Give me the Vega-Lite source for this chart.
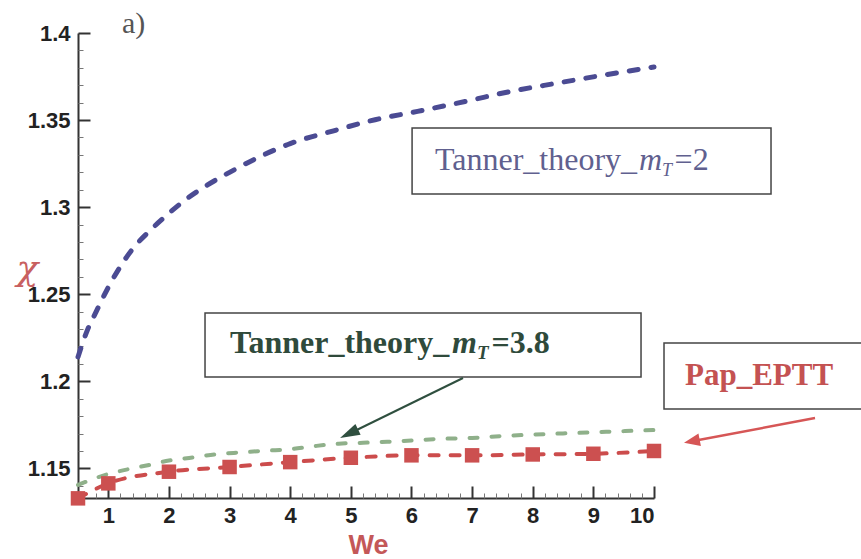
{
  "$schema": "https://vega.github.io/schema/vega-lite/v6.json",
  "width": 576,
  "height": 465,
  "autosize": {"type": "none"},
  "padding": {"left": 78, "top": 33, "right": 207, "bottom": 61},
  "background": "white",
  "config": {"view": {"stroke": null}, "axis": {"grid": false}},
  "resolve": {"axis": {"x": "independent", "y": "independent"}},
  "layer": [
    {
      "data": {"values": [
        {"We": 0.5, "chi": 1.214}, {"We": 0.65, "chi": 1.229}, {"We": 0.8, "chi": 1.240},
        {"We": 1.0, "chi": 1.254}, {"We": 1.2, "chi": 1.266}, {"We": 1.4, "chi": 1.276},
        {"We": 1.7, "chi": 1.287}, {"We": 2.0, "chi": 1.2965}, {"We": 2.3, "chi": 1.305},
        {"We": 2.6, "chi": 1.312}, {"We": 3.0, "chi": 1.320}, {"We": 3.5, "chi": 1.329},
        {"We": 4.0, "chi": 1.3365}, {"We": 4.7, "chi": 1.3437}, {"We": 5.4, "chi": 1.3502},
        {"We": 6.1, "chi": 1.355}, {"We": 6.9, "chi": 1.3608}, {"We": 7.6, "chi": 1.3662},
        {"We": 8.4, "chi": 1.3712}, {"We": 9.2, "chi": 1.376}, {"We": 10, "chi": 1.3805}
      ]},
      "mark": {"type": "line", "color": "#4b4b93", "strokeWidth": 5, "strokeDash": [9, 13], "strokeCap": "round", "interpolate": "monotone", "clip": false},
      "encoding": {
        "x": {"field": "We", "type": "quantitative", "scale": {"domain": [0.5, 10], "nice": false, "zero": false},
          "axis": {"orient": "bottom", "values": [1, 2, 3, 4, 5, 6, 7, 8, 9, 10], "format": "d",
            "tickSize": -12, "tickWidth": 2, "tickColor": "#333", "domainColor": "#333", "domainWidth": 2,
            "labelFont": "Liberation Sans", "labelFontSize": 22, "labelFontWeight": "bold", "labelColor": "#222", "labelPadding": 19,
            "title": "We", "titleFont": "Liberation Sans", "titleFontSize": 27, "titleFontWeight": "bold", "titleColor": "#c45858",
            "titleX": 290, "titleY": 55, "titleAlign": "center", "titleBaseline": "alphabetic"}},
        "y": {"field": "chi", "type": "quantitative", "scale": {"domain": [1.133, 1.4], "nice": false, "zero": false},
          "axis": {"orient": "left", "values": [1.15, 1.2, 1.25, 1.3, 1.35, 1.4], "format": "~g",
            "tickSize": -12, "tickWidth": 2, "tickColor": "#333", "domainColor": "#333", "domainWidth": 2,
            "labelFont": "Liberation Sans", "labelFontSize": 22, "labelFontWeight": "bold", "labelColor": "#222", "labelPadding": 20,
            "title": "χ", "titleFont": "DejaVu Serif", "titleFontSize": 36, "titleFontStyle": "italic", "titleFontWeight": "normal", "titleColor": "#c86060",
            "titleAngle": 0, "titleX": -51, "titleY": 235, "titleAlign": "center", "titleBaseline": "middle"}}
      }
    },
    {
      "data": {"values": [
        {"We": 0.5, "chi": 1.1405}, {"We": 1.0, "chi": 1.1468}, {"We": 1.3, "chi": 1.1493},
        {"We": 1.7, "chi": 1.1522}, {"We": 2.0, "chi": 1.1545}, {"We": 2.4, "chi": 1.1563},
        {"We": 2.8, "chi": 1.1582}, {"We": 3.2, "chi": 1.1592}, {"We": 3.6, "chi": 1.1602},
        {"We": 4.0, "chi": 1.161}, {"We": 4.4, "chi": 1.1628}, {"We": 4.8, "chi": 1.1642},
        {"We": 5.2, "chi": 1.1647}, {"We": 5.6, "chi": 1.1653}, {"We": 6.0, "chi": 1.166},
        {"We": 6.5, "chi": 1.167}, {"We": 7.0, "chi": 1.1675}, {"We": 7.5, "chi": 1.1686},
        {"We": 8.0, "chi": 1.1694}, {"We": 8.5, "chi": 1.1701}, {"We": 9.0, "chi": 1.1707},
        {"We": 9.5, "chi": 1.1714}, {"We": 10, "chi": 1.172}
      ]},
      "mark": {"type": "line", "color": "#8fb08a", "strokeWidth": 4, "strokeDash": [8, 14], "strokeCap": "round", "interpolate": "monotone", "clip": false},
      "encoding": {
        "x": {"field": "We", "type": "quantitative", "scale": {"domain": [0.5, 10], "nice": false, "zero": false},
          "axis": {"orient": "bottom", "values": [0.6, 0.8, 1.2, 1.4, 1.6, 1.8, 2.2, 2.4, 2.6, 2.8, 3.2, 3.4, 3.6, 3.8, 4.2, 4.4, 4.6, 4.8, 5.2, 5.4, 5.6, 5.8, 6.2, 6.4, 6.6, 6.8, 7.2, 7.4, 7.6, 7.8, 8.2, 8.4, 8.6, 8.8, 9.2, 9.4, 9.6, 9.8],
            "tickSize": -5, "tickWidth": 1, "tickColor": "#777", "labels": false, "domain": false, "title": null}},
        "y": {"field": "chi", "type": "quantitative", "scale": {"domain": [1.133, 1.4], "nice": false, "zero": false},
          "axis": {"orient": "left", "values": [1.14, 1.16, 1.17, 1.18, 1.19, 1.21, 1.22, 1.23, 1.24, 1.26, 1.27, 1.28, 1.29, 1.31, 1.32, 1.33, 1.34, 1.36, 1.37, 1.38, 1.39],
            "tickSize": -5, "tickWidth": 1, "tickColor": "#777", "labels": false, "domain": false, "title": null}}
      }
    },
    {
      "data": {"values": [
        {"We": 0.5, "chi": 1.1328}, {"We": 1, "chi": 1.1414}, {"We": 2, "chi": 1.1481},
        {"We": 3, "chi": 1.1508}, {"We": 4, "chi": 1.1536}, {"We": 5, "chi": 1.1561},
        {"We": 6, "chi": 1.1575}, {"We": 7, "chi": 1.1575}, {"We": 8, "chi": 1.158},
        {"We": 9, "chi": 1.1584}, {"We": 10, "chi": 1.16}
      ]},
      "layer": [
        {
          "mark": {"type": "line", "color": "#cc4c4c", "strokeWidth": 4, "strokeDash": [9, 12], "strokeCap": "round", "interpolate": "monotone", "clip": false},
          "encoding": {
            "x": {"field": "We", "type": "quantitative", "scale": {"domain": [0.5, 10], "nice": false, "zero": false}, "axis": null},
            "y": {"field": "chi", "type": "quantitative", "scale": {"domain": [1.133, 1.4], "nice": false, "zero": false}, "axis": null}
          }
        },
        {
          "mark": {"type": "point", "shape": "square", "filled": true, "size": 210, "color": "#cc5050", "opacity": 1, "clip": false},
          "encoding": {
            "x": {"field": "We", "type": "quantitative", "scale": {"domain": [0.5, 10], "nice": false, "zero": false}, "axis": null},
            "y": {"field": "chi", "type": "quantitative", "scale": {"domain": [1.133, 1.4], "nice": false, "zero": false}, "axis": null}
          }
        }
      ]
    },
    {
      "data": {"values": [
        {"x1": 6.01, "x2": 11.93, "y1": 1.3455, "y2": 1.3076},
        {"x1": 2.595, "x2": 9.786, "y1": 1.2392, "y2": 1.2025},
        {"x1": 10.165, "x2": 13.6, "y1": 1.222, "y2": 1.1841}
      ]},
      "mark": {"type": "rect", "fill": "white", "stroke": "#444", "strokeWidth": 1.5, "clip": false},
      "encoding": {
        "x": {"field": "x1", "type": "quantitative", "scale": {"domain": [0.5, 10], "nice": false, "zero": false}, "axis": null},
        "x2": {"field": "x2"},
        "y": {"field": "y1", "type": "quantitative", "scale": {"domain": [1.133, 1.4], "nice": false, "zero": false}, "axis": null},
        "y2": {"field": "y2"}
      }
    },
    {
      "data": {"values": [{"x1": 6.85, "y1": 1.2019, "x2": 4.97, "y2": 1.1699}]},
      "mark": {"type": "rule", "color": "#2f4f3f", "strokeWidth": 2, "clip": false},
      "encoding": {
        "x": {"field": "x1", "type": "quantitative", "scale": {"domain": [0.5, 10], "nice": false, "zero": false}, "axis": null},
        "x2": {"field": "x2"},
        "y": {"field": "y1", "type": "quantitative", "scale": {"domain": [1.133, 1.4], "nice": false, "zero": false}, "axis": null},
        "y2": {"field": "y2"}
      }
    },
    {
      "data": {"values": [{"x1": 12.656, "y1": 1.1789, "x2": 10.624, "y2": 1.1656}]},
      "mark": {"type": "rule", "color": "#d65656", "strokeWidth": 2.5, "clip": false},
      "encoding": {
        "x": {"field": "x1", "type": "quantitative", "scale": {"domain": [0.5, 10], "nice": false, "zero": false}, "axis": null},
        "x2": {"field": "x2"},
        "y": {"field": "y1", "type": "quantitative", "scale": {"domain": [1.133, 1.4], "nice": false, "zero": false}, "axis": null},
        "y2": {"field": "y2"}
      }
    },
    {
      "data": {"values": [{"x": 4.97, "y": 1.1699}]},
      "mark": {"type": "point", "shape": "M0,-1L-0.6,1L0.6,1Z", "filled": true, "size": 400, "angle": 244, "color": "#2f4f3f", "opacity": 1, "clip": false},
      "encoding": {
        "x": {"field": "x", "type": "quantitative", "scale": {"domain": [0.5, 10], "nice": false, "zero": false}, "axis": null},
        "y": {"field": "y", "type": "quantitative", "scale": {"domain": [1.133, 1.4], "nice": false, "zero": false}, "axis": null}
      }
    },
    {
      "data": {"values": [{"x": 10.624, "y": 1.1656}]},
      "mark": {"type": "point", "shape": "M0,-1L-0.8,1L0.8,1Z", "filled": true, "size": 256, "angle": 259, "color": "#d65656", "opacity": 1, "clip": false},
      "encoding": {
        "x": {"field": "x", "type": "quantitative", "scale": {"domain": [0.5, 10], "nice": false, "zero": false}, "axis": null},
        "y": {"field": "y", "type": "quantitative", "scale": {"domain": [1.133, 1.4], "nice": false, "zero": false}, "axis": null}
      }
    },
    {
      "data": {"values": [{"x": 6.388, "y": 1.3213, "t": "Tanner_theory_"}, {"x": 10.34, "y": 1.3213, "t": "=2"}]},
      "mark": {"type": "text", "font": "Liberation Serif", "fontSize": 32, "color": "#60608f", "align": "left", "baseline": "alphabetic", "clip": false},
      "encoding": {
        "x": {"field": "x", "type": "quantitative", "scale": {"domain": [0.5, 10], "nice": false, "zero": false}, "axis": null},
        "y": {"field": "y", "type": "quantitative", "scale": {"domain": [1.133, 1.4], "nice": false, "zero": false}, "axis": null},
        "text": {"field": "t"}
      }
    },
    {
      "data": {"values": [{"x": 9.754, "y": 1.3213, "t": "m"}]},
      "mark": {"type": "text", "font": "Liberation Serif", "fontSize": 32, "fontStyle": "italic", "color": "#60608f", "align": "left", "baseline": "alphabetic", "clip": false},
      "encoding": {
        "x": {"field": "x", "type": "quantitative", "scale": {"domain": [0.5, 10], "nice": false, "zero": false}, "axis": null},
        "y": {"field": "y", "type": "quantitative", "scale": {"domain": [1.133, 1.4], "nice": false, "zero": false}, "axis": null},
        "text": {"field": "t"}
      }
    },
    {
      "data": {"values": [{"x": 10.132, "y": 1.3179, "t": "T"}]},
      "mark": {"type": "text", "font": "Liberation Serif", "fontSize": 18, "fontStyle": "italic", "color": "#60608f", "align": "left", "baseline": "alphabetic", "clip": false},
      "encoding": {
        "x": {"field": "x", "type": "quantitative", "scale": {"domain": [0.5, 10], "nice": false, "zero": false}, "axis": null},
        "y": {"field": "y", "type": "quantitative", "scale": {"domain": [1.133, 1.4], "nice": false, "zero": false}, "axis": null},
        "text": {"field": "t"}
      }
    },
    {
      "data": {"values": [{"x": 3.007, "y": 1.2163, "t": "Tanner_theory_"}, {"x": 7.32, "y": 1.2163, "t": "=3.8"}]},
      "mark": {"type": "text", "font": "Liberation Serif", "fontSize": 32, "fontWeight": "bold", "color": "#2f4a3b", "align": "left", "baseline": "alphabetic", "clip": false},
      "encoding": {
        "x": {"field": "x", "type": "quantitative", "scale": {"domain": [0.5, 10], "nice": false, "zero": false}, "axis": null},
        "y": {"field": "y", "type": "quantitative", "scale": {"domain": [1.133, 1.4], "nice": false, "zero": false}, "axis": null},
        "text": {"field": "t"}
      }
    },
    {
      "data": {"values": [{"x": 6.668, "y": 1.2163, "t": "m"}]},
      "mark": {"type": "text", "font": "Liberation Serif", "fontSize": 32, "fontWeight": "bold", "fontStyle": "italic", "color": "#2f4a3b", "align": "left", "baseline": "alphabetic", "clip": false},
      "encoding": {
        "x": {"field": "x", "type": "quantitative", "scale": {"domain": [0.5, 10], "nice": false, "zero": false}, "axis": null},
        "y": {"field": "y", "type": "quantitative", "scale": {"domain": [1.133, 1.4], "nice": false, "zero": false}, "axis": null},
        "text": {"field": "t"}
      }
    },
    {
      "data": {"values": [{"x": 7.08, "y": 1.2128, "t": "T"}]},
      "mark": {"type": "text", "font": "Liberation Serif", "fontSize": 19, "fontWeight": "bold", "fontStyle": "italic", "color": "#2f4a3b", "align": "left", "baseline": "alphabetic", "clip": false},
      "encoding": {
        "x": {"field": "x", "type": "quantitative", "scale": {"domain": [0.5, 10], "nice": false, "zero": false}, "axis": null},
        "y": {"field": "y", "type": "quantitative", "scale": {"domain": [1.133, 1.4], "nice": false, "zero": false}, "axis": null},
        "text": {"field": "t"}
      }
    },
    {
      "data": {"values": [{"x": 10.511, "y": 1.1979, "t": "Pap_EPTT"}]},
      "mark": {"type": "text", "font": "Liberation Serif", "fontSize": 31, "fontWeight": "bold", "color": "#c45252", "align": "left", "baseline": "alphabetic", "clip": false},
      "encoding": {
        "x": {"field": "x", "type": "quantitative", "scale": {"domain": [0.5, 10], "nice": false, "zero": false}, "axis": null},
        "y": {"field": "y", "type": "quantitative", "scale": {"domain": [1.133, 1.4], "nice": false, "zero": false}, "axis": null},
        "text": {"field": "t"}
      }
    },
    {
      "data": {"values": [{"x": 1.226, "y": 1.4, "t": "a)"}]},
      "mark": {"type": "text", "font": "Liberation Serif", "fontSize": 30, "color": "#555", "align": "left", "baseline": "alphabetic", "clip": false},
      "encoding": {
        "x": {"field": "x", "type": "quantitative", "scale": {"domain": [0.5, 10], "nice": false, "zero": false}, "axis": null},
        "y": {"field": "y", "type": "quantitative", "scale": {"domain": [1.133, 1.4], "nice": false, "zero": false}, "axis": null},
        "text": {"field": "t"}
      }
    }
  ]
}
